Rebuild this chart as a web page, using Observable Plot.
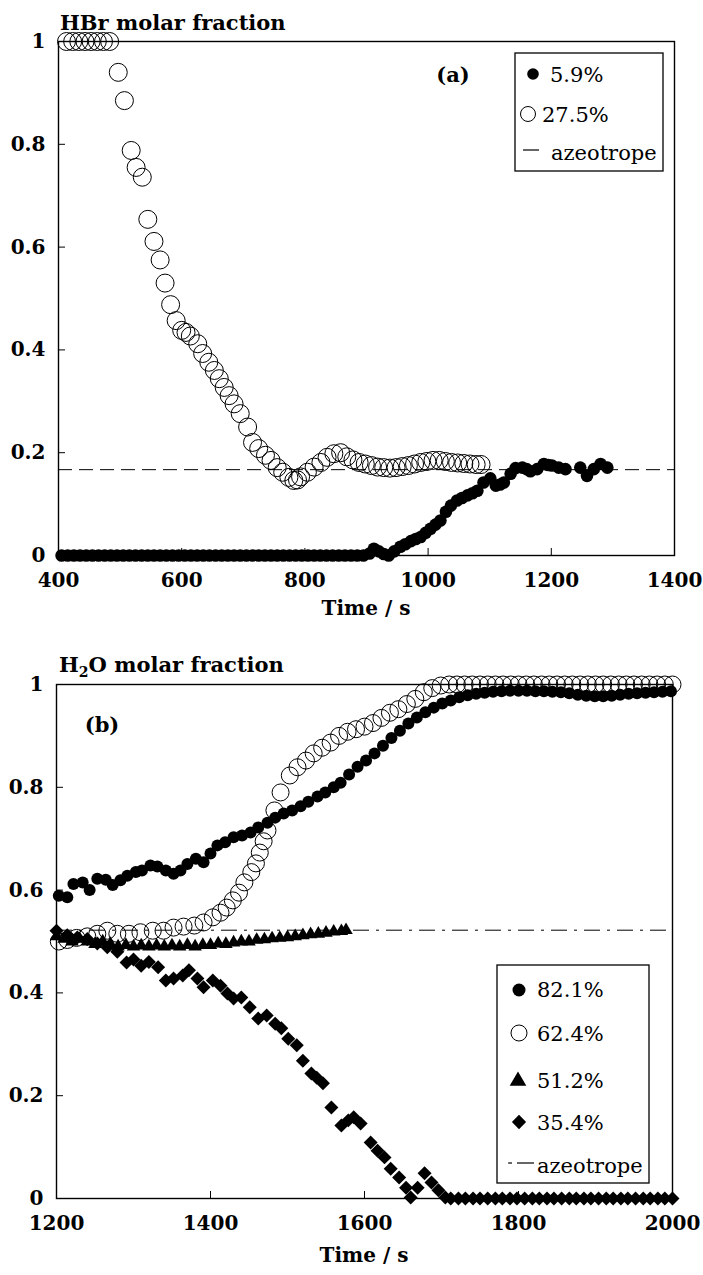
<!DOCTYPE html>
<html><head><meta charset="utf-8">
<script src="https://cdn.jsdelivr.net/npm/d3@7"></script>
<script src="https://cdn.jsdelivr.net/npm/@observablehq/plot@0.6"></script>
<style>body{margin:0;background:#fff} svg{display:block}</style>
</head><body><div id="chart" style="width:703px"></div>
<script>
// ---------- shared ticks ----------
const yTicks = [0, 0.2, 0.4, 0.6, 0.8, 1];
const aXTicks = [400, 600, 800, 1000, 1200, 1400];
const bXTicks = [1200, 1400, 1600, 1800, 2000];

// ---------- panel (a): HBr molar fraction ----------
const aSeriesLabels = ["5.9%", "27.5%", "azeotrope"];
const aAzeotrope = 0.167;
// 27.5% (open circles)  [time s, fraction]
const aOpen = [[413,1],[423,1],[433,1],[443,1],[453,1],[463,1],[473,1],[483,1],
 [497,0.94],[507,0.885],[518,0.788],[526,0.755],[536,0.736],[545,0.654],[555,0.611],[565,0.575],
 [573,0.53],[582,0.488],[591,0.457],[600,0.438],[607,0.434],[614,0.427],[626,0.412],[634,0.393],
 [644,0.376],[653,0.36],[661,0.344],[669,0.327],[677,0.311],[685,0.295],[695,0.276],[707,0.25],
 [715,0.22],[725,0.208],[736,0.195],[745,0.185],[755,0.171],[764,0.162],[774,0.152],[782,0.146],
 [788,0.147],[793,0.153],[804,0.162],[815,0.172],[826,0.181],[836,0.191],[847,0.198],[858,0.2],
 [868,0.192],[878,0.186],[888,0.181],[898,0.178],[908,0.175],[918,0.172],[928,0.171],[938,0.17],
 [948,0.171],[958,0.173],[968,0.175],[978,0.178],[988,0.181],[998,0.183],[1008,0.185],[1018,0.185],
 [1028,0.183],[1038,0.181],[1048,0.18],[1058,0.179],[1068,0.178],[1078,0.177],[1086,0.177]];
// 5.9% (filled circles)
const aFilled = [[405,0],[415,0],[425,0],[435,0],[445,0],[455,0],[465,0],[475,0],[485,0],[495,0],
 [505,0],[515,0],[525,0],[535,0],[545,0],[555,0],[565,0],[575,0],[585,0],[595,0],
 [605,0],[615,0],[625,0],[635,0],[645,0],[655,0],[665,0],[675,0],[685,0],[695,0],
 [705,0],[715,0],[725,0],[735,0],[745,0],[755,0],[765,0],[775,0],[785,0],[795,0],
 [805,0],[815,0],[825,0],[835,0],[845,0],[855,0],[865,0],[875,0],[885,0],[895,0],
 [905,0.004],[912,0.013],[920,0.008],[928,0.003],[936,0],[945,0.008],[955,0.017],[963,0.022],
 [972,0.028],[980,0.032],[988,0.036],[996,0.044],[1004,0.052],[1012,0.06],[1020,0.068],[1029,0.085],
 [1037,0.097],[1047,0.107],[1055,0.112],[1064,0.117],[1072,0.121],[1080,0.126],[1090,0.142],[1101,0.15],
 [1110,0.136],[1117,0.138],[1123,0.142],[1134,0.159],[1142,0.17],[1153,0.171],[1160,0.168],[1166,0.164],
 [1177,0.168],[1188,0.178],[1195,0.176],[1201,0.175],[1212,0.171],[1223,0.168],
 [1247,0.171],[1258,0.155],[1269,0.168],[1280,0.178],[1291,0.171]];

// ---------- panel (b): H2O molar fraction ----------
const bSeriesLabels = ["82.1%", "62.4%", "51.2%", "35.4%", "azeotrope"];
const bAzeotrope = 0.522;
const b821 = [[1203,0.589],[1214,0.586],[1222,0.612],[1234,0.615],[1243,0.6],[1253,0.622],[1264,0.62],
 [1273,0.61],[1283,0.619],[1292,0.628],[1303,0.635],[1311,0.638],[1322,0.648],[1331,0.646],[1342,0.638],
 [1352,0.632],[1361,0.638],[1370,0.651],[1381,0.661],[1391,0.654],[1400,0.671],[1409,0.687],[1419,0.693],
 [1430,0.703],[1441,0.706],[1452,0.712],[1462,0.722],[1474,0.731],[1484,0.741],[1495,0.749],[1506,0.755],
 [1517,0.763],[1527,0.772],[1539,0.782],[1549,0.79],[1560,0.8],[1569,0.809],[1580,0.825],[1591,0.84],
 [1602,0.852],[1613,0.866],[1624,0.881],[1635,0.896],[1646,0.91],[1657,0.924],[1668,0.936],[1679,0.946],
 [1690,0.955],[1701,0.963],[1712,0.969],[1723,0.975],[1734,0.979],[1745,0.982],[1756,0.984],[1767,0.986],
 [1778,0.987],[1789,0.988],[1800,0.988],[1811,0.988],[1822,0.987],[1833,0.987],[1844,0.986],[1855,0.985],
 [1866,0.983],[1877,0.98],[1888,0.978],[1899,0.977],[1910,0.977],[1921,0.978],[1932,0.98],[1943,0.982],
 [1954,0.983],[1965,0.984],[1976,0.985],[1987,0.986],[1998,0.987]];
const b624 = [[1203,0.5],[1214,0.503],[1226,0.507],[1240,0.51],[1253,0.515],[1266,0.521],[1279,0.515],
 [1294,0.515],[1309,0.518],[1325,0.521],[1339,0.521],[1352,0.527],[1365,0.529],[1379,0.531],[1391,0.537],
 [1403,0.547],[1413,0.556],[1421,0.566],[1429,0.58],[1437,0.595],[1444,0.615],[1453,0.635],[1459,0.652],
 [1464,0.673],[1469,0.695],[1474,0.716],[1483,0.755],[1491,0.79],[1503,0.823],[1513,0.839],[1524,0.852],
 [1534,0.866],[1545,0.877],[1556,0.887],[1567,0.9],[1578,0.908],[1589,0.913],[1600,0.918],[1611,0.925],
 [1622,0.935],[1633,0.945],[1644,0.952],[1655,0.962],[1666,0.972],[1677,0.985],[1688,0.993],[1699,0.998],
 [1710,1],[1720,1],[1730,1],[1740,1],[1750,1],[1760,1],[1770,1],[1780,1],[1790,1],[1800,1],
 [1810,1],[1820,1],[1830,1],[1840,1],[1850,1],[1860,1],[1870,1],[1880,1],[1890,1],[1900,1],
 [1910,1],[1920,1],[1930,1],[1940,1],[1950,1],[1960,1],[1970,1],[1980,1],[1990,1],[2000,1]];
const b512 = [[1200,0.51],[1210,0.505],[1220,0.5],[1230,0.505],[1240,0.5],[1250,0.495],[1260,0.5],
 [1270,0.495],[1280,0.49],[1290,0.493],[1300,0.49],[1310,0.492],[1320,0.49],[1330,0.492],[1340,0.49],
 [1350,0.492],[1360,0.49],[1370,0.493],[1380,0.49],[1390,0.493],[1400,0.493],[1410,0.496],[1420,0.495],
 [1430,0.498],[1440,0.5],[1450,0.5],[1460,0.503],[1470,0.504],[1480,0.506],[1490,0.507],[1500,0.508],
 [1510,0.51],[1520,0.512],[1530,0.514],[1540,0.515],[1550,0.517],[1560,0.519],[1570,0.52],[1576,0.522]];
const b354 = [[1200,0.521],[1214,0.512],[1227,0.508],[1240,0.505],[1253,0.496],[1266,0.489],[1279,0.48],
 [1291,0.459],[1300,0.465],[1310,0.453],[1320,0.46],[1332,0.45],[1342,0.424],[1352,0.428],[1364,0.434],
 [1372,0.444],[1383,0.428],[1391,0.411],[1403,0.424],[1413,0.414],[1422,0.399],[1430,0.389],[1440,0.391],
 [1451,0.372],[1462,0.35],[1473,0.356],[1484,0.34],[1492,0.331],[1501,0.311],[1512,0.298],[1520,0.268],
 [1531,0.243],[1538,0.235],[1546,0.224],[1557,0.177],[1570,0.142],[1579,0.152],[1586,0.158],[1595,0.146],
 [1608,0.109],[1617,0.093],[1626,0.08],[1634,0.058],[1645,0.041],[1654,0.021],[1660,0.002],[1669,0.021],
 [1678,0.049],[1687,0.031],[1696,0.016],[1705,0.002],
 [1712,0],[1722,0],[1731,0],[1741,0],[1750,0],[1760,0],[1770,0],[1779,0],[1789,0],[1798,0],
 [1808,0],[1818,0],[1827,0],[1837,0],[1846,0],[1856,0],[1866,0],[1875,0],[1885,0],[1894,0],
 [1904,0],[1914,0],[1923,0],[1933,0],[1942,0],[1952,0],[1962,0],[1971,0],[1981,0],[1990,0],[2000,0]];

const SERIF = "'DejaVu Serif', 'Noto Serif', 'Liberation Serif', serif";
const fmt = d => String(d);
const X = d => d[0], Y = d => d[1];

function axes(xt) {
  return [
    Plot.frame({stroke: "black", strokeWidth: 1.4}),
    Plot.axisX(xt, {tickSize: -7, tickPadding: 24, label: null, tickFormat: fmt}),
    Plot.axisY(yTicks, {tickSize: -7, tickPadding: 20, label: null, tickFormat: fmt})
  ];
}
const baseStyle = {fontFamily: SERIF, fontSize: "20px", fontWeight: "bold", color: "black", background: "white", overflow: "visible"};

const pA = Plot.plot({
  width: 703, height: 637, marginLeft: 58, marginRight: 29, marginTop: 41, marginBottom: 82,
  x: {domain: [400, 1400]}, y: {domain: [0, 1]}, style: baseStyle,
  marks: [
    Plot.ruleY([aAzeotrope], {stroke: "black", strokeWidth: 1, strokeDasharray: "14,7"}),
    Plot.dot(aOpen, {x: X, y: Y, r: 9, stroke: "black", strokeWidth: 1, fill: "none"}),
    Plot.dot(aFilled, {x: X, y: Y, r: 6.3, fill: "black", stroke: "none"}),
    ...axes(aXTicks)
  ]
});

const pB = Plot.plot({
  width: 703, height: 638, marginLeft: 56, marginRight: 31, marginTop: 47, marginBottom: 77,
  x: {domain: [1200, 2000]}, y: {domain: [0, 1]}, style: baseStyle,
  marks: [
    Plot.ruleY([bAzeotrope], {stroke: "black", strokeWidth: 1, strokeDasharray: "16,7,3,7"}),
    Plot.dot(b821, {x: X, y: Y, r: 6, fill: "black", stroke: "none"}),
    Plot.dot(b624, {x: X, y: Y, r: 8.5, stroke: "black", strokeWidth: 1, fill: "none"}),
    Plot.dot(b512, {x: X, y: Y, r: 5, symbol: "triangle", fill: "black", stroke: "none"}),
    Plot.dot(b354, {x: X, y: Y, r: 6.3, symbol: "diamond2", fill: "black", stroke: "none"}),
    ...axes(bXTicks)
  ]
});

const root = document.getElementById("chart");
root.append(pA, pB);

function addText(svg, txt, x, y, opts = {}) {
  const t = d3.select(svg).append("text")
    .attr("x", x).attr("y", y)
    .attr("font-family", SERIF)
    .attr("font-size", opts.size || 20)
    .attr("font-weight", opts.weight || "bold")
    .attr("text-anchor", opts.anchor || "start")
    .attr("fill", "black");
  if (opts.html) t.html(txt); else t.text(txt);
  return t;
}

// ----- panel (a) annotations -----
addText(pA, "HBr molar fraction", 60, 30, {size: 21});
addText(pA, "(a)", 453, 82, {size: 21, anchor: "middle"});
addText(pA, "Time / s", 366, 615, {size: 20, anchor: "middle"});
{
  const g = d3.select(pA).append("g");
  g.append("rect").attr("x", 515).attr("y", 53).attr("width", 148).attr("height", 118)
    .attr("fill", "white").attr("stroke", "black").attr("stroke-width", 1.3);
  g.append("circle").attr("cx", 533).attr("cy", 74).attr("r", 5.8).attr("fill", "black");
  g.append("circle").attr("cx", 528).attr("cy", 114).attr("r", 7.5).attr("fill", "none").attr("stroke", "black").attr("stroke-width", 1);
  g.append("line").attr("x1", 523).attr("x2", 539).attr("y1", 150).attr("y2", 150).attr("stroke", "black").attr("stroke-width", 1.2);
  addText(pA, aSeriesLabels[0], 550, 82, {size: 21, weight: "normal"});
  addText(pA, aSeriesLabels[1], 542, 122, {size: 21, weight: "normal"});
  addText(pA, aSeriesLabels[2], 551, 160, {size: 21, weight: "normal"});
}

// ----- panel (b) annotations -----
addText(pB, "H<tspan font-size='14' dy='5'>2</tspan><tspan dy='-5'>O molar fraction</tspan>", 59, 35, {size: 21, html: true});
addText(pB, "(b)", 102, 95, {size: 21, anchor: "middle"});
addText(pB, "Time / s", 364, 625, {size: 20, anchor: "middle"});
{
  const g = d3.select(pB).append("g");
  g.append("rect").attr("x", 497).attr("y", 328).attr("width", 152).attr("height", 218)
    .attr("fill", "white").attr("stroke", "black").attr("stroke-width", 1.3);
  g.append("circle").attr("cx", 519).attr("cy", 353).attr("r", 6.5).attr("fill", "black");
  g.append("circle").attr("cx", 519).attr("cy", 396).attr("r", 8).attr("fill", "none").attr("stroke", "black").attr("stroke-width", 1);
  g.append("path").attr("d", d3.symbol(d3.symbolTriangle, 120)()).attr("transform", "translate(518,444)").attr("fill", "black");
  g.append("path").attr("d", d3.symbol(d3.symbolDiamond2, 130)()).attr("transform", "translate(519,485)").attr("fill", "black");
  g.append("line").attr("x1", 508).attr("x2", 512).attr("y1", 526).attr("y2", 526).attr("stroke", "black").attr("stroke-width", 1.2);
  g.append("line").attr("x1", 517).attr("x2", 534).attr("y1", 526).attr("y2", 526).attr("stroke", "black").attr("stroke-width", 1.2);
  const ys = [360, 404, 451, 493, 536];
  bSeriesLabels.forEach((s, i) => addText(pB, s, 537, ys[i], {size: 21, weight: "normal"}));
}
</script>
</body></html>
